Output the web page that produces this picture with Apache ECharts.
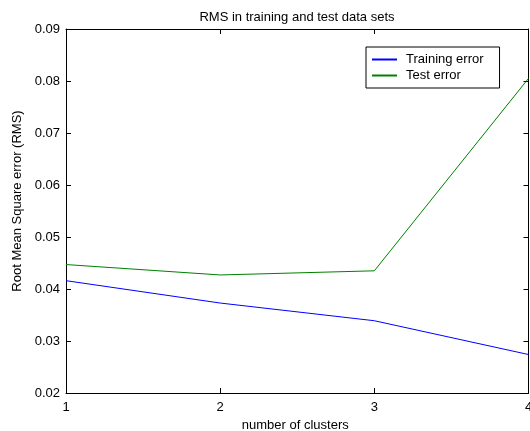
<!DOCTYPE html>
<html>
<head>
<meta charset="utf-8">
<script src="https://cdn.jsdelivr.net/npm/echarts@6/dist/echarts.min.js"></script>
<style>
    html, body { margin: 0; padding: 0; background: #fff; }
    #chart { width: 530px; height: 431px; }
</style>
</head>
<body>
<div id="chart"></div>
<script>
// 数据
var clusters = [1, 2, 3, 4];
var trainErr = [0.0416, 0.0373, 0.0339, 0.0274];
var testErr = [0.0447, 0.0427, 0.0435, 0.0805];
var yTicks = [0.02, 0.03, 0.04, 0.05, 0.06, 0.07, 0.08, 0.09];

var chart = echarts.init(document.getElementById('chart'));
var font = 'Liberation Sans, Arial, sans-serif';
var fs = 13;

let pairs = (ys) => clusters.map((c, i) => [c, ys[i]]);

let baseAxis = {
    axisLine: { show: true, onZero: false, lineStyle: { color: '#000', width: 1 } },
    axisTick: { show: true, inside: true, length: 5, lineStyle: { color: '#000' } },
    splitLine: { show: false }
};

var option = {
    animation: false,
    backgroundColor: '#fff',
    title: {
        text: 'RMS in training and test data sets',
        left: 292, top: 6, textAlign: 'center',
        textStyle: { fontFamily: font, fontSize: fs, fontWeight: 'normal', color: '#000' }
    },
    legend: {
        orient: 'vertical',
        left: 366, top: 47,
        padding: [6, 16, 6, 6],
        itemGap: 3,
        itemWidth: 25, itemHeight: 2,
        icon: 'rect',
        itemStyle: { borderWidth: 0 },
        borderColor: '#000', borderWidth: 1,
        backgroundColor: '#fff',
        textStyle: { fontFamily: font, fontSize: fs, color: '#000', padding: [0, 0, 0, 4] },
        data: [
            { name: 'Training error', itemStyle: { color: '#0000ff' } },
            { name: 'Test error', itemStyle: { color: '#008000' } }
        ]
    },
    grid: { left: 66, right: 1.5, top: 29, bottom: 38, outerBoundsMode: 'none' },
    xAxis: [
        Object.assign({}, baseAxis, {
            type: 'value', min: 1, max: 4, interval: 1, position: 'bottom',
            name: 'number of clusters', nameLocation: 'middle', nameGap: 26,
            nameTextStyle: { fontFamily: font, fontSize: fs, color: '#000', padding: [0, 4, 0, 0] },
            axisLabel: { fontFamily: font, fontSize: fs, color: '#000', margin: 8 }
        }),
        Object.assign({}, baseAxis, {
            type: 'value', min: 1, max: 4, interval: 1, position: 'top',
            axisLabel: { show: false }
        })
    ],
    yAxis: [
        Object.assign({}, baseAxis, {
            type: 'value', min: 0.02, max: 0.09, interval: 0.01, position: 'left',
            name: 'Root Mean Square error (RMS)', nameLocation: 'middle', nameGap: 40,
            nameTextStyle: { fontFamily: font, fontSize: fs, color: '#000', padding: [0, 0, 0, 20] },
            axisLabel: {
                fontFamily: font, fontSize: fs, color: '#000', margin: 6,
                formatter: (v) => {
                    let t = yTicks.find((y) => Math.abs(y - v) < 1e-6);
                    return t !== undefined ? t.toFixed(2) : '';
                }
            }
        }),
        Object.assign({}, baseAxis, {
            type: 'value', min: 0.02, max: 0.09, interval: 0.01, position: 'right',
            axisLabel: { show: false }
        })
    ],
    series: [
        {
            name: 'Training error', type: 'line', data: pairs(trainErr),
            showSymbol: false, symbol: 'none',
            color: '#0000ff', lineStyle: { width: 1, color: '#0000ff' }
        },
        {
            name: 'Test error', type: 'line', data: pairs(testErr),
            showSymbol: false, symbol: 'none',
            color: '#008000', lineStyle: { width: 1, color: '#008000' }
        }
    ]
};

chart.setOption(option);
</script>
</body>
</html>
